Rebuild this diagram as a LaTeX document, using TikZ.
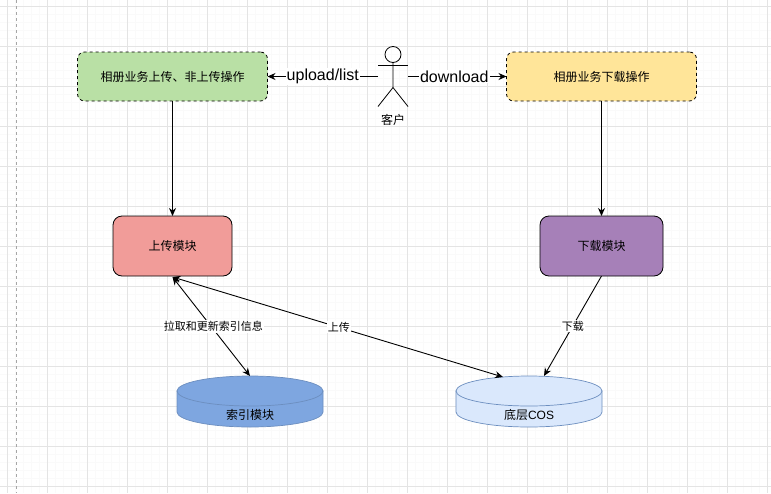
\documentclass[tikz,border=0pt]{standalone}
\usepackage{fontspec}
\setmainfont{Liberation Sans}
\newfontfamily\cjk{Noto Sans CJK SC}
\usetikzlibrary{arrows.meta}
\definecolor{gridmajor}{HTML}{E4E4E4}
\definecolor{gridminor}{HTML}{FAFAFA}
\definecolor{taskgreen}{HTML}{B9E0A5}
\definecolor{taskyellow}{HTML}{FFE599}
\definecolor{modred}{HTML}{F19C99}
\definecolor{modpurple}{HTML}{A680B8}
\definecolor{storeblue}{HTML}{7EA6E0}
\definecolor{storepale}{HTML}{DAE8FC}
\definecolor{storeline}{HTML}{6C8EBF}
\tikzset{
        x=1pt, y=-1pt,
        every node/.style={inner sep=0pt, outer sep=0pt},
        conn/.style={draw=black, line width=0.9pt, -{Stealth[length=8pt, width=7pt]}},
        twoway/.style={conn, {Stealth[length=8pt, width=7pt]}-{Stealth[length=8pt, width=7pt]}},
        tag/.style={font=\cjk\fontsize{12}{14}\selectfont},
        edgetag/.style={fill=white, inner sep=1pt, font=\cjk\fontsize{11}{13}\selectfont},
        bigtag/.style={fill=white, inner sep=1pt, font=\fontsize{16}{18}\selectfont},
        task/.style={tag, rectangle, rounded corners=7pt, draw=black, dashed, line width=0.8pt, minimum width=190pt, minimum height=49pt},
        module/.style={tag, rectangle, rounded corners=9pt, draw=black, line width=0.8pt, minimum height=60pt},
        store/.style={rectangle, minimum width=146pt, minimum height=51pt},
        drum/.style={draw=storeline, line width=0.7pt},
        actor/.style={rectangle, minimum width=30pt, minimum height=60pt},
        stick/.style={draw=black, line width=0.8pt},
}
\begin{document}
\begin{tikzpicture}
    \useasboundingbox (0,0) rectangle (771,493);
    \fill[white] (0,0) rectangle (771,493);
    % grid
    \foreach \gx in {-1,7,...,771} \draw[gridminor, line width=0.7pt] (\gx,0) -- (\gx,493);
    \foreach \gy in {-2,6,...,493} \draw[gridminor, line width=0.7pt] (0,\gy) -- (771,\gy);
    \foreach \gx in {7,47,...,771} \draw[gridmajor, line width=0.8pt] (\gx,0) -- (\gx,493);
    \foreach \gy in {6,46,...,493} \draw[gridmajor, line width=0.8pt] (0,\gy) -- (771,\gy);
    \draw[gray!70, dashed, line width=0.6pt] (16.5,0) -- (16.5,493);

    \node[task, fill=taskgreen] (uploadop) at (172.5,76.5) {相册业务上传、非上传操作};
    \node[task, fill=taskyellow] (downloadop) at (601.5,76.5) {相册业务下载操作};
    \node[module, minimum width=119pt, fill=modred] (upload) at (172.5,246) {上传模块};
    \node[module, minimum width=123pt, fill=modpurple] (download) at (601.5,246) {下载模块};
    \node[store] (index) at (250,401.5) {};
    \node[store] (cos) at (529,401.5) {};

    % drums
    \foreach \drumname/\drumfill in {index/storeblue,cos/storepale} {
      \draw[drum, fill=\drumfill] (\drumname.north west) ++(0,15) -- ++(0,21) arc (180:0:73 and 15) -- ++(0,-21) -- cycle;
      \draw[drum, fill=\drumfill] (\drumname.north) ++(0,15) ellipse (73 and 15);
    }
    \node[tag] (indextext) at (250,414.5) {索引模块};
    \node[tag] (costext) at (529,414.5) {底层{\rmfamily COS}};

    % client
    \node[actor] (client) at (393,76.5) {};
    \node[tag] (clienttext) at (393,120) {客户};
    \draw[stick] (client.north) ++(0,8) circle (8);
    \draw[stick] (client.north) ++(0,16) -- ++(0,25) -- (client.south west);
    \draw[stick] (client.north) ++(0,41) -- (client.south east);
    \draw[stick] (client.north west) ++(0,19) -- ++(30,0);

    \coordinate (uploadbottom) at (172.5,277);
    \coordinate (indextop) at (250,376);
    \coordinate (cosleft) at (503,377);
    \coordinate (cosright) at (544,376);

    \draw[conn] (client.west) -- (uploadop.east) node[midway, bigtag] (uploadtag) {upload/list};
    \draw[conn] (client.east) -- (downloadop.west) node[pos=0.47, bigtag] (downloadtag) {download};
    \draw[conn] (uploadop.south) -- (upload.north);
    \draw[conn] (downloadop.south) -- (download.north);
    \draw[twoway] (uploadbottom) -- (indextop) node[midway, xshift=2pt, edgetag] (pulltag) {拉取和更新索引信息};
    \draw[twoway] (uploadbottom) -- (cosleft) node[midway, xshift=1pt, edgetag] (puttag) {上传};
    \draw[conn] (download.south) -- (cosright) node[midway, edgetag] (gettag) {下载};
\end{tikzpicture}
\end{document}
